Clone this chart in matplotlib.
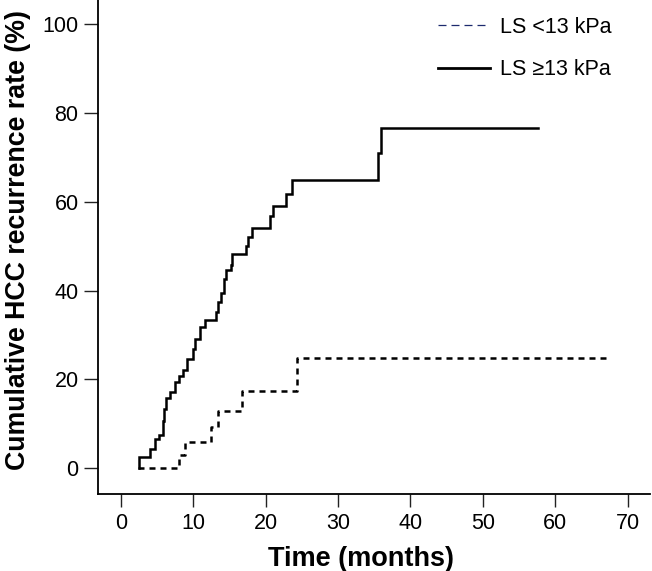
import matplotlib
matplotlib.use("Agg")
import matplotlib.pyplot as plt
from matplotlib.lines import Line2D

plt.rcParams['font.family'] = ['Liberation Sans', 'DejaVu Sans']

# Data (months, cumulative %)
hi_start = 2.5
hi_times = [2.5, 4.0, 4.7, 5.3, 5.8, 6.0, 6.2, 6.8, 7.5, 8.1, 8.6, 9.1, 10.0, 10.2,
            10.9, 11.6, 13.2, 13.5, 13.9, 14.2, 14.6, 15.2, 15.4, 17.3, 17.6, 18.1,
            20.6, 21.0, 22.8, 23.6, 35.5, 35.9]
hi_levels = [2.4, 4.3, 6.5, 7.5, 10.5, 13.3, 15.7, 17.2, 19.3, 20.7, 22.0, 24.5, 26.8, 29.0,
             31.7, 33.4, 35.2, 37.4, 39.5, 42.7, 44.6, 45.8, 48.3, 50.0, 52.0, 54.1,
             56.7, 59.1, 61.7, 64.9, 70.9, 76.6]
hi_end = 57.6

lo_start = 2.4
lo_times = [8.1, 8.9, 12.5, 13.5, 16.8, 24.3]
lo_levels = [2.9, 5.9, 9.3, 12.9, 17.4, 24.8]
lo_end = 67.2

xticks = [0, 10, 20, 30, 40, 50, 60, 70]
yticks = [0, 20, 40, 60, 80, 100]
labels = ['LS <13 kPa', 'LS \u226513 kPa']

W, H = 652, 571
fig = plt.figure(figsize=(W / 100, H / 100), dpi=100)
ax = fig.add_axes([98 / W, 77 / H, 552 / W, 494 / H])

hx = [hi_start] + hi_times + [hi_end]
hy = [0] + hi_levels + [hi_levels[-1]]
lx = [lo_start] + lo_times + [lo_end]
ly = [0] + lo_levels + [lo_levels[-1]]

ax.step(hx, hy, where='post', color='black', lw=1.8, solid_joinstyle='miter')
ax.step(lx, ly, where='post', color='black', lw=1.8, linestyle=(0, (2.4, 2.0)),
        dash_capstyle='butt')

ax.set_xlim(-3.14, 73.1)
ax.set_ylim(-5.88, 105.5)
ax.set_xticks(xticks)
ax.set_yticks(yticks)
for s in ['top', 'right']:
    ax.spines[s].set_visible(False)
for s in ['left', 'bottom']:
    ax.spines[s].set_linewidth(1.3)
ax.tick_params(axis='both', labelsize=15.5, width=1.0, length=10, pad=4, colors='#222222',
               labelcolor='black')
ax.tick_params(axis='x', length=9, pad=5)

ax.set_xlabel('Time (months)', fontsize=19.5, fontweight='bold', labelpad=8)
ax.set_ylabel('Cumulative HCC recurrence rate (%)', fontsize=19.3, fontweight='bold', labelpad=8)
ax.xaxis.label.set_x(0.476)
ax.yaxis.label.set_y(0.515)

handles = [
    Line2D([], [], color='#1c2a6e', lw=0.9, linestyle=(0, (6.4, 4.0))),
    Line2D([], [], color='black', lw=2.0),
]
ax.legend(handles, labels, loc='upper left', bbox_to_anchor=(438 / W, 1 - 17 / H),
          bbox_transform=fig.transFigure, frameon=False, fontsize=15.5,
          handlelength=2.42, handletextpad=0.47, labelspacing=0.98, borderpad=0,
          borderaxespad=0)

fig.savefig('out.png', dpi=100)
